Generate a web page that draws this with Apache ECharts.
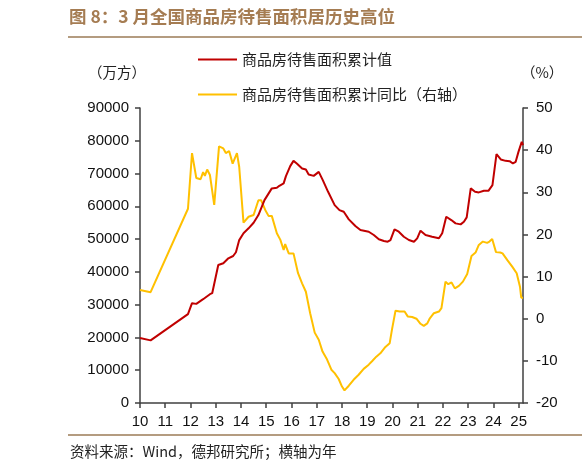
<!DOCTYPE html>
<html>
<head>
<meta charset="utf-8">
<script src="https://cdn.jsdelivr.net/npm/echarts@6/dist/echarts.min.js"></script>
<style>
  html, body { margin: 0; padding: 0; background: #fff; }
  #chart { width: 582px; height: 473px; }
</style>
</head>
<body>
<div id="chart"></div>
<script>
// x positions are years after 2000 (10 = 2010)
var stockX = [10.0, 10.42, 11.9, 12.06, 12.23, 12.5, 12.77, 12.86, 13.1, 13.3, 13.5, 13.69, 13.8, 13.93,
    14.1, 14.3, 14.5, 14.69, 14.93, 15.22, 15.42, 15.52, 15.69, 15.78, 15.95, 16.08, 16.21, 16.42, 16.57,
    16.68, 16.88, 17.08, 17.24, 17.45, 17.71, 17.9, 18.07, 18.27, 18.53, 18.73, 19.06, 19.26, 19.46, 19.66,
    19.81, 19.92, 20.08, 20.25, 20.45, 20.65, 20.85, 20.98, 21.11, 21.31, 21.57, 21.84, 21.97, 22.13, 22.33,
    22.5, 22.7, 22.83, 22.94, 23.1, 23.27, 23.42, 23.62, 23.8, 23.96, 24.12, 24.29, 24.48, 24.64, 24.77,
    24.88, 24.99, 25.12, 25.17];
var stockVal = [19800, 19100, 27100, 30450, 30240, 31670, 33190, 33500, 42100, 42630, 44150, 44850, 46000, 49700,
    51770, 53290, 55000, 57340, 61900, 65470, 65650, 66260, 66990, 69210, 72260, 73870, 73080, 71560, 71250,
    69730, 69300, 70520, 68000, 64430, 60380, 58860, 58340, 56030, 53990, 52770, 52250, 51250, 49940, 49420,
    49200, 49700, 52980, 52250, 50730, 49720, 49200, 50240, 52560, 51250, 50730, 50240, 51800, 56820, 55810,
    54800, 54500, 55300, 56640, 65470, 64430, 64250, 64740, 64740, 66470, 75910, 74300, 73870, 73780, 73080,
    73570, 76610, 79660, 78650];

var yoyX = [10.0, 10.42, 11.9, 12.06, 12.23, 12.4, 12.5, 12.57, 12.66, 12.77, 12.94, 13.13, 13.3, 13.4, 13.53,
    13.67, 13.84, 13.93, 14.1, 14.3, 14.5, 14.69, 14.8, 14.96, 15.09, 15.22, 15.42, 15.56, 15.69, 15.75, 15.89,
    16.08, 16.26, 16.42, 16.57, 16.74, 16.92, 17.08, 17.23, 17.41, 17.58, 17.71, 17.87, 18.0, 18.1, 18.27,
    18.46, 18.66, 18.86, 19.06, 19.19, 19.36, 19.52, 19.72, 19.89, 19.98, 20.12, 20.29, 20.48, 20.61, 20.78,
    20.95, 21.11, 21.24, 21.38, 21.48, 21.64, 21.84, 21.94, 22.1, 22.21, 22.34, 22.47, 22.63, 22.79, 22.96,
    23.13, 23.29, 23.42, 23.58, 23.75, 23.84, 23.95, 24.1, 24.27, 24.36, 24.55, 24.75, 24.92, 25.05, 25.1, 25.17];
var yoyVal = [6.8, 6.3, 26.1, 39.3, 33.4, 33.1, 34.8, 33.9, 35.4, 34.1, 27.0, 40.9, 40.4, 39.3, 39.8,
    36.8, 39.3, 36.0, 22.8, 24.2, 24.6, 28.1, 28.1, 25.8, 24.4, 24.4, 20.3, 18.7, 16.3, 17.7, 15.5,
    15.5, 10.8, 8.4, 6.4, 1.3, -3.3, -5.0, -7.8, -9.7, -12.1, -12.9, -14.3, -16.1, -17.0, -15.9,
    -14.5, -13.3, -11.9, -10.9, -10.1, -9.0, -8.2, -6.7, -5.8, -2.6, 1.9, 1.7, 1.7, 0.5, 0.4,
    0.0, -1.2, -1.7, -1.1, 0.1, 1.3, 1.7, 2.5, 8.8, 8.2, 8.6, 7.2, 7.8, 8.8, 10.6,
    14.9, 15.7, 17.5, 18.3, 18.0, 18.3, 18.9, 15.8, 15.7, 15.5, 13.9, 12.3, 10.8, 7.6, 5.0, 5.0];

var yearTicks = [10, 11, 12, 13, 14, 15, 16, 17, 18, 19, 20, 21, 22, 23, 24, 25];
var seriesNames = ['商品房待售面积累计值', '商品房待售面积累计同比（右轴）'];

function pairs(xs, ys) {
    var out = [];
    for (var i = 0; i < xs.length; i++) out.push([xs[i], ys[i]]);
    return out;
}

var axisColor = '#404040';
var numFont = 'Liberation Sans, Arial, sans-serif';
var cjkFont = '"Noto Sans CJK SC", sans-serif';

var option = {
    animation: false,
    backgroundColor: '#fff',
    grid: { left: 140, right: 59, top: 108, bottom: 70 },
    legend: {
        data: seriesNames,
        orient: 'vertical',
        left: 193,
        top: 46,
        itemWidth: 39,
        itemHeight: 2,
        itemGap: 18,
        icon: 'rect',
        textStyle: { fontFamily: cjkFont, fontSize: 15, color: '#222', lineHeight: 17 }
    },
    xAxis: {
        type: 'value',
        min: 10,
        max: 25.17,
        interval: 1,
        splitLine: { show: false },
        axisLine: { lineStyle: { color: axisColor, width: 1.5 } },
        axisTick: { customValues: yearTicks, length: 5, lineStyle: { color: axisColor, width: 1.5 } },
        axisLabel: {
            customValues: yearTicks,
            margin: 11,
            fontFamily: numFont,
            fontSize: 15,
            color: '#111'
        }
    },
    yAxis: [
        {
            type: 'value',
            min: 0,
            max: 90000,
            interval: 10000,
            splitLine: { show: false },
            axisLine: { show: true, lineStyle: { color: axisColor, width: 1.5 } },
            axisTick: { show: true, length: 5, lineStyle: { color: axisColor, width: 1.5 } },
            axisLabel: {
                margin: 11,
                fontFamily: numFont,
                fontSize: 15,
                color: '#111',
                formatter: function (v) { return String(v); }
            }
        },
        {
            type: 'value',
            min: -20,
            max: 50,
            interval: 10,
            position: 'right',
            splitLine: { show: false },
            axisLine: { show: true, lineStyle: { color: axisColor, width: 1.5 } },
            axisTick: { show: true, length: 5, lineStyle: { color: axisColor, width: 1.5 } },
            axisLabel: { margin: 13, fontFamily: numFont, fontSize: 15, color: '#111' }
        }
    ],
    series: [
        {
            name: seriesNames[0],
            type: 'line',
            yAxisIndex: 0,
            symbol: 'none',
            data: pairs(stockX, stockVal),
            itemStyle: { color: '#C00000' },
            lineStyle: { color: '#C00000', width: 2 },
            z: 3
        },
        {
            name: seriesNames[1],
            type: 'line',
            yAxisIndex: 1,
            symbol: 'none',
            data: pairs(yoyX, yoyVal),
            itemStyle: { color: '#FFC000' },
            lineStyle: { color: '#FFC000', width: 2 },
            z: 2
        }
    ],
    graphic: [
        {
            type: 'text', left: 69, top: 8,
            style: { text: '图 8：3 月全国商品房待售面积居历史高位', font: 'bold 17.5px "Noto Sans CJK SC", sans-serif', fill: '#a57c52' }
        },
        {
            type: 'line', shape: { x1: 68, y1: 37, x2: 582, y2: 37 },
            style: { stroke: '#b49c80', lineWidth: 2 }
        },
        {
            type: 'text', left: 88, top: 65,
            style: { text: '（万方）', font: '14.5px "Noto Sans CJK SC", sans-serif', fill: '#222' }
        },
        {
            type: 'text', left: 521, top: 65,
            style: { text: '（%）', font: '14.5px "Noto Sans CJK SC", sans-serif', fill: '#222' }
        },
        {
            type: 'line', shape: { x1: 68, y1: 435, x2: 582, y2: 435 },
            style: { stroke: '#b49c80', lineWidth: 2 }
        },
        {
            type: 'text', left: 70, top: 444,
            style: { text: '资料来源：Wind，德邦研究所；横轴为年', font: '14.5px "Noto Sans CJK SC", sans-serif', fill: '#222' }
        }
    ]
};

var chart = echarts.init(document.getElementById('chart'));
chart.setOption(option);
</script>
</body>
</html>
